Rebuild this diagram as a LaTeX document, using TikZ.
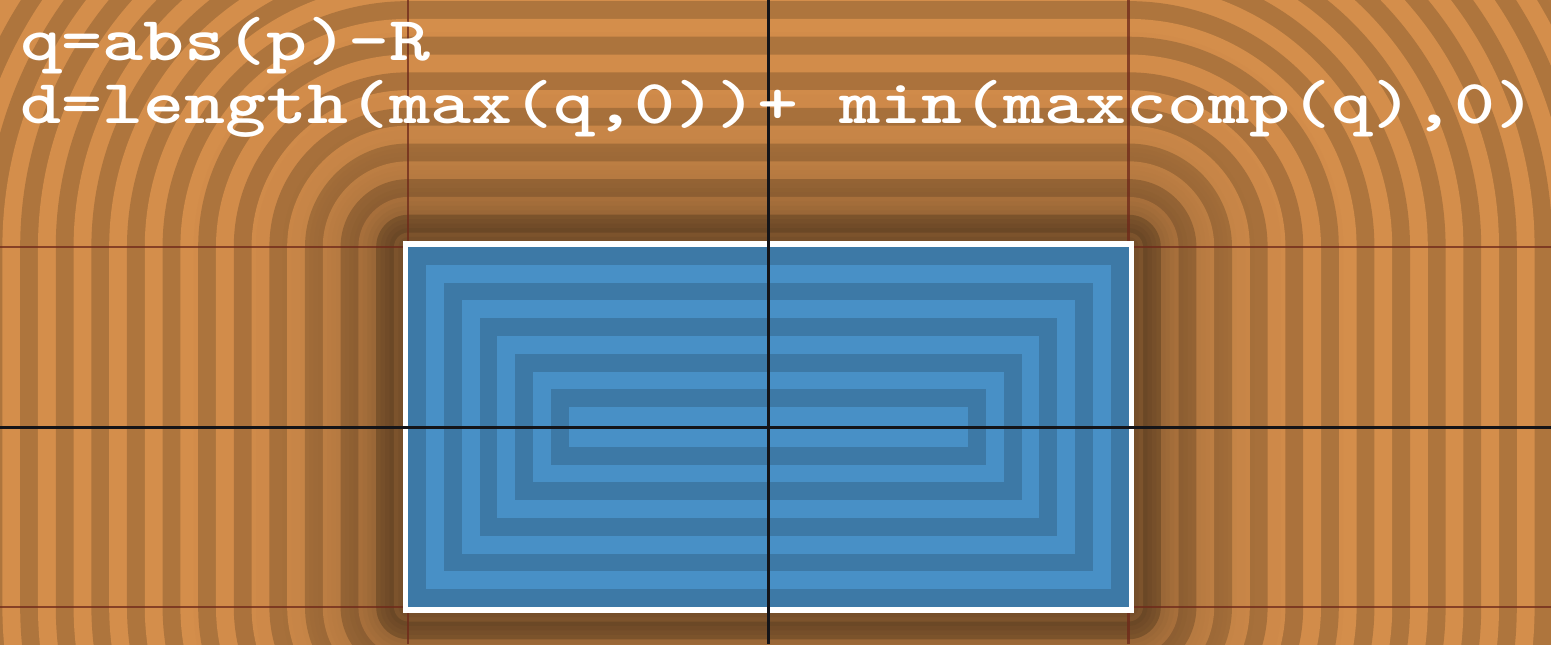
\documentclass[tikz,border=0pt]{standalone}
\usepackage{graphicx}
\definecolor{sdfwarm}{RGB}{214,143,76}
\definecolor{sdfwarmdark}{RGB}{176,118,62}
\definecolor{sdfcold}{RGB}{72,144,198}
\definecolor{sdfcolddark}{RGB}{61,121,166}
\definecolor{guidered}{RGB}{110,40,25}
\definecolor{axisblack}{RGB}{20,20,24}

\begin{document}
\begin{tikzpicture}[
    x=0.01cm, y=0.01cm,
    guide/.style={draw=guidered, line width=0.02cm, opacity=0.75},
    axis/.style={draw=axisblack, line width=0.03cm},
    boxborder/.style={draw=white, line width=0.055cm},
    formula/.style={anchor=base west, inner sep=0pt, text=white,
        font=\ttfamily\bfseries\fontsize{22.2pt}{26pt}\selectfont}
]
    \coordinate (frameSW) at (-768.5,-217);
    \coordinate (frameNE) at (782.5,427);
    \coordinate (origin) at (0,0);
    \coordinate (boxSW) at (-360,-180);
    \coordinate (boxNE) at (360,180);
    \useasboundingbox (frameSW) rectangle (frameNE);
    \clip (frameSW) rectangle (frameNE);

    % outside: offset bands, darker near the box
    \foreach \j in {108,107,...,-4}{
        \pgfmathsetmacro\r{14.5+(\j+1)*4.45}
        \pgfmathsetmacro\m{max(14.5+(\j+0.5)*4.45,1)}
        \pgfmathtruncatemacro\shade{100*(1-0.52*exp(-\m/54))}
        \pgfmathtruncatemacro\isdark{mod(\j+80,8)<4}
        \pgfmathsetlengthmacro\rr{\r*0.01cm}
        \ifnum\isdark=1 \colorlet{bandfill}{sdfwarmdark!\shade!black}%
        \else \colorlet{bandfill}{sdfwarm!\shade!black}\fi
        \fill[bandfill, rounded corners=\rr]
            ([shift={(-\r,-\r)}]boxSW) rectangle ([shift={(\r,\r)}]boxNE);
    }

    % guide lines along the box edges
    \draw[guide] (boxSW |- frameSW) -- (boxSW |- frameNE);
    \draw[guide] (boxNE |- frameSW) -- (boxNE |- frameNE);
    \draw[guide] (frameSW |- boxSW) -- (frameNE |- boxSW);
    \draw[guide] (frameSW |- boxNE) -- (frameNE |- boxNE);

    % inside: nested rectangles
    \foreach \k in {0,...,9}{
        \pgfmathsetmacro\t{\k*17.8}
        \pgfmathtruncatemacro\isdark{mod(\k,2)==0}
        \ifnum\isdark=1 \colorlet{bandfill}{sdfcolddark}%
        \else \colorlet{bandfill}{sdfcold}\fi
        \fill[bandfill]
            ([shift={(\t,\t)}]boxSW) rectangle ([shift={(-\t,-\t)}]boxNE);
    }

    \draw[boxborder] ([shift={(-2.8,-2.8)}]boxSW) rectangle ([shift={(2.8,2.8)}]boxNE);

    \draw[axis] (origin |- frameSW) -- (origin |- frameNE);
    \draw[axis] (frameSW |- origin) -- (frameNE |- origin);

    \node[formula] (qline) at (-749,367) {\scalebox{1}[0.8]{q=abs(p)-R}};
    \node[formula] (dline) at (-749,304) {\scalebox{1}[0.8]{d=length(max(q,0))+ min(maxcomp(q),0)}};
\end{tikzpicture}
\end{document}
